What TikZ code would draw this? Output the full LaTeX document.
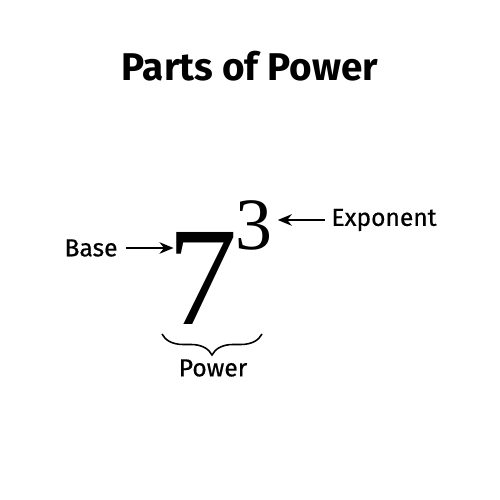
\documentclass[tikz,border=0pt]{standalone}
\usepackage{fontspec}
\setmainfont{Fira Sans}
\newfontfamily\labelfont[FakeBold=0.6]{Fira Sans}
\newfontfamily\digitfont{Liberation Serif}
\usetikzlibrary{arrows.meta, decorations.pathreplacing}
\tikzstyle{part} = [inner sep=0pt, font=\labelfont\fontsize{14}{16}\selectfont]
\tikzstyle{digit} = [inner sep=0pt, anchor=base]
\tikzstyle{pointer} = [-{Stealth[length=2.8mm, width=2.3mm]}, line width=1.1pt]

\begin{document}
\begin{tikzpicture}[node distance=2cm]
\useasboundingbox (0,0) rectangle (10,10);

\node (title) at (5,8.68) {\fontsize{22}{26}\selectfont\bfseries Parts of Power};

\node (seven) [digit] at (4.06,3.5) {\digitfont\fontsize{80}{80}\selectfont 7};
\node (three) [digit] at (5.08,5.0) {\digitfont\fontsize{42}{42}\selectfont 3};

\node (base) [part] at (1.82,5.04) {Base};
\node (exponent) [part] at (7.68,5.6) {Exponent};
\draw[pointer] ([xshift=0.16cm]base.east) to ([xshift=0.12cm]base.east -| seven.west);
\draw[pointer] ([xshift=-0.12cm]exponent.west) to ([xshift=0.1cm]exponent.west -| three.east);

\coordinate (brl) at (3.24,3.32);
\coordinate (brr) at (5.24,3.32);
\draw[line width=0.9pt, decorate, decoration={brace, amplitude=0.42cm, mirror}] (brl) -- (brr);
\node (power) [part] at (4.26,2.64) {Power};

\end{tikzpicture}
\end{document}
